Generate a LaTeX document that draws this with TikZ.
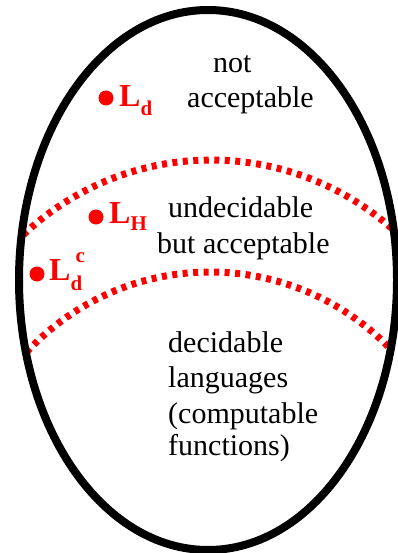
\documentclass[tikz,border=0pt]{standalone}
\usepackage{fontspec}
\setmainfont{Liberation Serif}
\usetikzlibrary{shapes.geometric}
\begin{document}
\begin{tikzpicture}[x=1pt,y=-1pt,
  txt/.style={anchor=base west, inner sep=0pt, font=\fontsize{30}{35}\selectfont},
  lbl/.style={anchor=base west, inner sep=0pt, text=red, font=\fontsize{32}{35}\selectfont\bfseries},
  dotmark/.style={circle, fill=red, inner sep=0pt, minimum size=15pt},
  border/.style={line width=8pt, black},
  bound/.style={red, line width=7pt, dash pattern=on 5pt off 5.5pt}]
\useasboundingbox (0,0) rectangle (398,553);
\newcommand{\sbs}[1]{{\fontsize{21}{21}\selectfont #1}}
% regions boundaries
\begin{scope}
  \clip (208,280) ellipse [x radius=189, y radius=270];
  \draw[bound] (211,433) ++(220:273) arc[start angle=220, end angle=320, radius=273];
  \draw[bound] (210,522) ++(218:250) arc[start angle=218, end angle=322, radius=250];
\end{scope}
\node[draw, border, ellipse, minimum width=378pt, minimum height=540pt, inner sep=0pt] (universe) at (208,280) {};
% texts
\node[txt] (t1) at (213,73) {not};
\node[txt] (t2) at (187,108) {acceptable};
\node[txt] (t3) at (168,217) {undecidable};
\node[txt] (t4) at (157,253) {but acceptable};
\node[txt] (t5) at (168,352) {decidable};
\node[txt] (t6) at (168,387) {languages};
\node[txt] (t7) at (168,423) {(computable};
\node[txt] (t8) at (168,455) {functions)};
% languages
\node[dotmark] (dLd) at (106,98) {};
\node[lbl] (Ld) at (119,107) {L\raisebox{-9pt}{\sbs{d}}};
\node[dotmark] (dLH) at (96,217) {};
\node[lbl] (LH) at (109,223) {L\raisebox{-7pt}{\sbs{H}}};
\node[dotmark] (dLdc) at (37,274) {};
\node[lbl] (Ldc) at (49,280) {L\rlap{\raisebox{18pt}{\hspace{5pt}\sbs{c}}}\raisebox{-10pt}{\sbs{d}}};
\end{tikzpicture}
\end{document}
